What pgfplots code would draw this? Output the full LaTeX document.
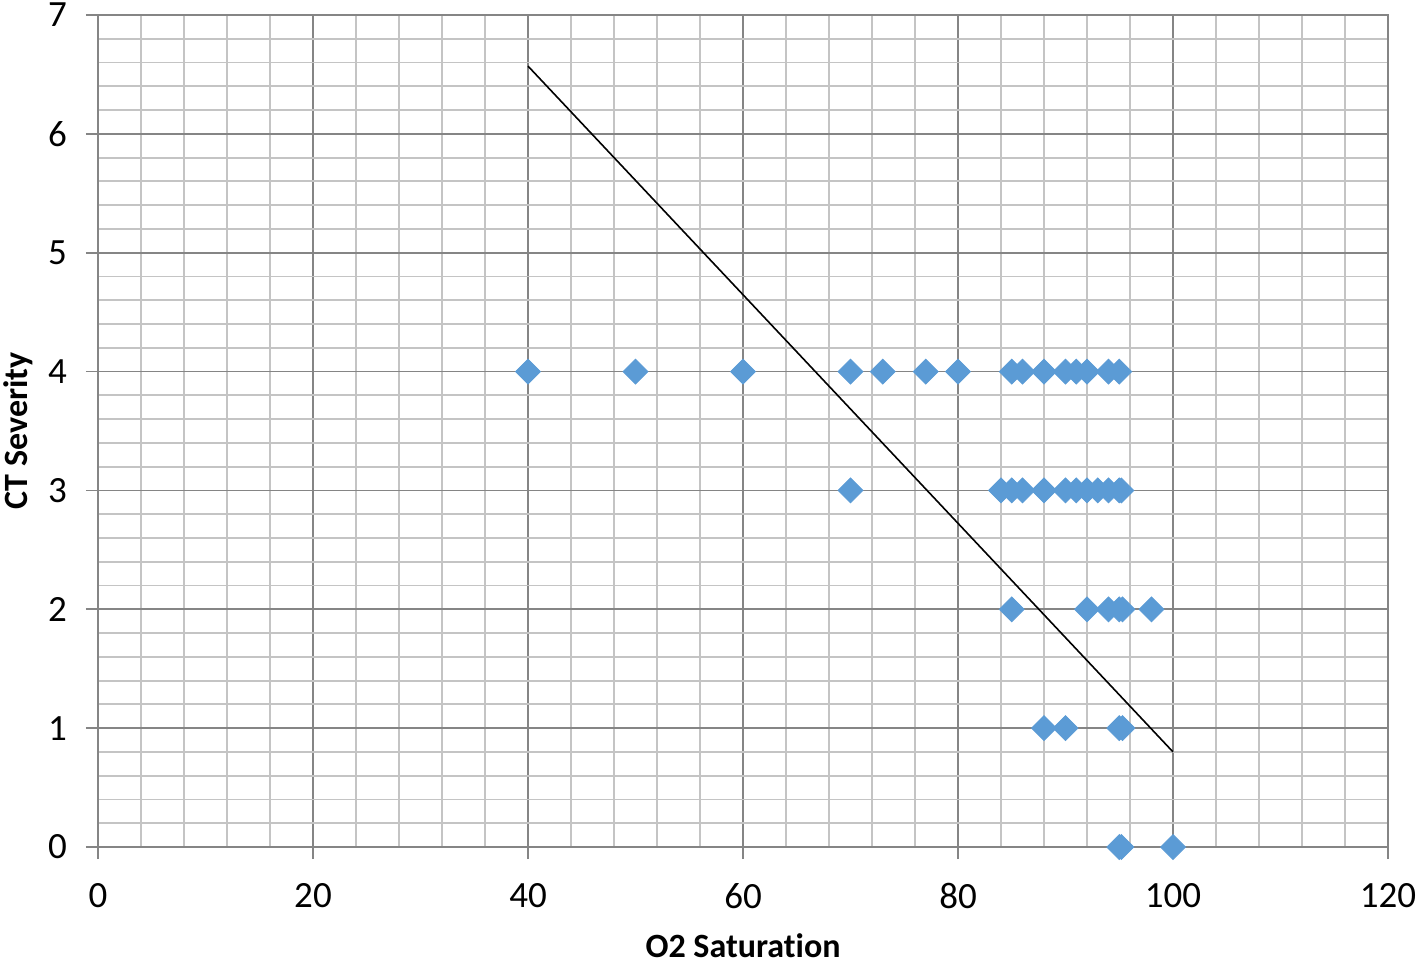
\documentclass[border=0pt]{standalone}
\usepackage{pgfplots}
\pgfplotsset{compat=1.18}
\usepackage{fontspec}
\setmainfont[Ligatures=NoCommon]{Carlito}
\definecolor{ptblue}{HTML}{5B9BD5}
\definecolor{majgrid}{HTML}{858585}
\definecolor{mingrid}{HTML}{C4C4C4}

\begin{document}
\begin{tikzpicture}
\begin{axis}[
    name=ax,
    scale only axis,
    width=645pt, height=416pt,
    xmin=0, xmax=120, ymin=0, ymax=7,
    xtick={0,20,...,120}, ytick={0,1,...,7},
    minor x tick num=4, minor y tick num=4,
    grid=both,
    major grid style={majgrid, line width=0.9pt},
    minor grid style={mingrid, line width=0.9pt},
    axis line style={majgrid, line width=0.9pt},
    tick style={majgrid, line width=0.9pt},
    minor tick length=0pt,
    major tick length=6pt,
    tick align=outside,
    xtick pos=bottom, ytick pos=left,
    ticklabel style={font=\fontsize{18.5}{20}\selectfont},
    /pgf/number format/assume math mode=true,
    xticklabel style={yshift=-8.5pt},
    yticklabel style={xshift=-6pt},
    xlabel={\textbf{O2 Saturation}},
    ylabel={\textbf{CT Severity}},
    label style={font=\fontsize{17}{20}\selectfont},
    xlabel style={yshift=-5.5pt},
    ylabel style={yshift=1pt},
    clip=false,
]
\addplot[black, line width=0.8pt] coordinates {(40,6.57) (100,0.80)};
\addplot[only marks, mark=square*, mark size=4.4pt, color=ptblue,
    mark options={rotate=45, draw=ptblue, fill=ptblue}] coordinates {
    (40,4) (50,4) (60,4) (70,4) (73,4) (77,4) (80,4)
    (85,4) (86,4) (88,4) (90,4) (91,4) (92,4) (94,4) (95,4)
    (70,3) (84,3) (85,3) (86,3) (88,3) (90,3) (91,3) (92,3) (93,3) (94,3) (95,3) (95.2,3)
    (85,2) (92,2) (94,2) (95,2) (95.3,2) (98,2)
    (88,1) (90,1) (95,1) (95.3,1)
    (95,0) (95.2,0) (100,0)
};
\end{axis}
\pgfresetboundingbox
\path ([shift={(-49pt,-58.5pt)}]ax.south west) rectangle ([shift={(660pt,423.5pt)}]ax.south west);
\end{tikzpicture}
\end{document}
